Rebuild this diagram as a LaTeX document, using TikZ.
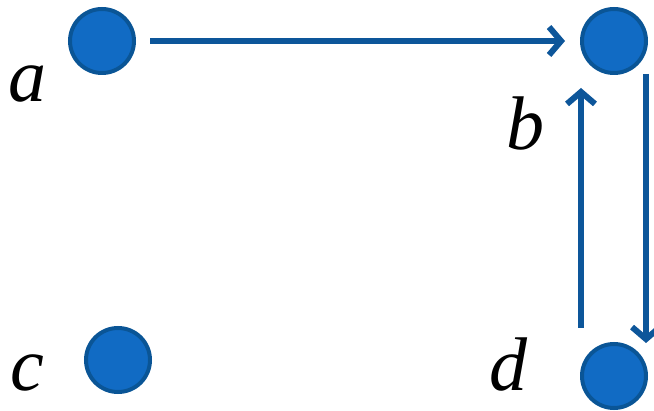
\documentclass[tikz,border=0pt]{standalone}
\usepackage{fontspec}
\setmainfont{Liberation Serif}
\usetikzlibrary{arrows.meta}
\definecolor{dotfill}{HTML}{116BC4}
\definecolor{dotline}{HTML}{0A5596}
\definecolor{arrowc}{HTML}{0D569A}
\tikzset{
  vertex/.style={circle, fill=dotfill, draw=dotline, line width=4pt, minimum size=64pt, inner sep=0pt},
  lbl/.style={font=\fontsize{76}{80}\selectfont\itshape, inner sep=0pt, anchor=base},
  edge/.style={draw=arrowc, line width=6pt, -{Straight Barb[length=12pt,width=28pt,line width=6pt]}}
}
\begin{document}
\begin{tikzpicture}[x=1pt,y=-1pt]
\useasboundingbox (0,0) rectangle (654,411);
\node[vertex] (a) at (102,41) {};
\node[vertex] (b) at (614,41) {};
\node[vertex] (c) at (118,360) {};
\node[vertex] (d) at (614,376) {};
\node[lbl] (la) at (28,102) {a};
\node[lbl] (lb) at (525,150) {b};
\node[lbl] (lc) at (27,391) {c};
\node[lbl] (ld) at (508,391) {d};
\coordinate (ab1) at (150,41);
\coordinate (ab2) at (565,41);
\coordinate (bd1) at (646,74);
\coordinate (bd2) at (646,343);
\coordinate (db1) at (581,328);
\coordinate (db2) at (581,88);
\draw[edge] (ab1) -- (ab2);
\draw[edge] (bd1) -- (bd2);
\draw[edge] (db1) -- (db2);
\end{tikzpicture}
\end{document}
